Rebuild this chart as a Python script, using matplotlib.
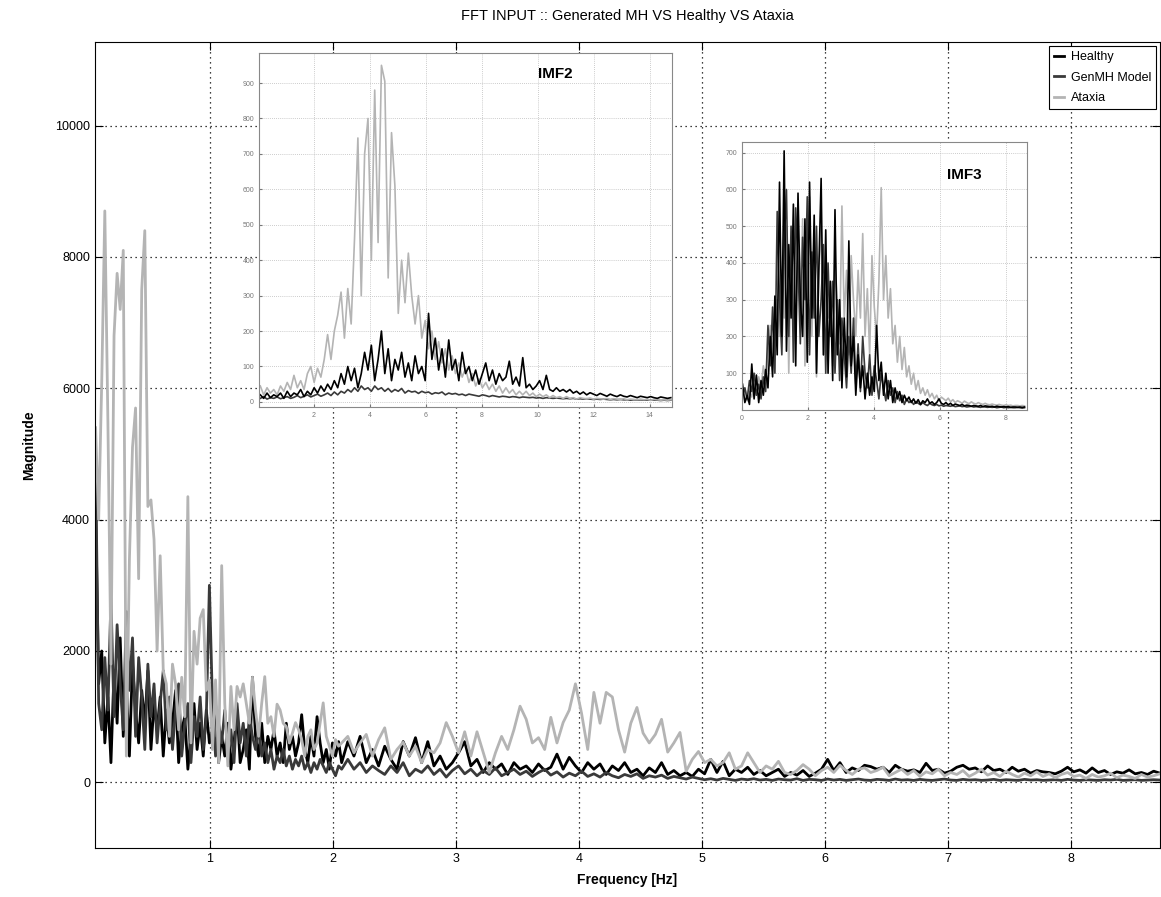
import numpy as np
import matplotlib
matplotlib.use("Agg")
import matplotlib.pyplot as plt

plt.rcParams['font.family'] = ['Liberation Sans', 'DejaVu Sans']

# ---- main spectrum, low band (0.07 - 2.07 Hz) ----
healthy_lo = [4200, 1500, 2000, 600, 1300, 300, 1700, 900, 2200, 700, 1500, 400, 1800, 1100, 600,
              1400, 900, 1700, 500, 1200, 800, 1300, 400, 1100, 600, 900, 1400, 300, 800, 1000,
              200, 700, 1200, 500, 900, 400, 1100, 600, 800, 1200, 300, 700, 400, 900, 200,
              600, 1100, 300, 500, 800, 200, 1600, 700, 400, 900, 300, 700, 500, 800, 400,
              600, 300, 900, 500, 700, 400, 600, 1030, 500, 300, 700, 400, 1000, 600, 300,
              500, 200, 600, 400, 620, 300]
genmh_lo = [4900, 1200, 800, 1900, 1100, 2800, 1000, 2400, 1500, 800, 2600, 1400, 2200, 700, 1900,
            1300, 500, 1800, 1000, 1500, 600, 1200, 1700, 800, 1300, 500, 1100, 1500, 400, 900,
            1200, 300, 1000, 700, 1300, 500, 1000, 3000, 1200, 400, 900, 600, 1100, 500, 800,
            300, 1200, 600, 900, 400, 1000, 700, 500, 850, 400, 600, 300, 500, 200, 400,
            300, 500, 250, 400, 200, 350, 250, 400, 200, 300, 150, 300, 200, 350, 250,
            150, 300, 200, 100, 250, 200]
ataxia_lo = [5400, 4000, 6100, 8700, 5500, 1800, 6800, 7750, 7200, 8100, 400, 3400, 5100, 5700, 3100,
             7500, 8400, 4200, 4300, 3700, 2000, 3450, 1700, 1500, 700, 1800, 1500, 800, 1600, 1000,
             4350, 600, 2300, 1800, 2500, 2630, 1400, 1550, 500, 1560, 300, 3300, 1200, 250, 1460,
             800, 1460, 1300, 1500, 1200, 900, 1600, 1100, 700, 1200, 1610, 900, 1000, 700, 1190,
             1100, 900, 850, 600, 750, 910, 800, 650, 400, 700, 800, 500, 600, 900, 1210,
             700, 550, 400, 650, 550, 600]

# ---- main spectrum, high band (2.12 - 8.72 Hz) ----
healthy_hi = [620, 400, 700, 300, 500, 250, 550, 350, 200, 620, 400, 680, 300, 620, 250,
              400, 200, 300, 450, 620, 250, 350, 150, 300, 200, 280, 120, 300, 200, 250,
              150, 280, 180, 230, 430, 200, 380, 250, 150, 300, 200, 280, 120, 250, 180,
              300, 150, 200, 100, 220, 150, 300, 120, 180, 100, 150, 90, 200, 130, 350,
              150, 320, 100, 200, 150, 230, 120, 180, 100, 150, 200, 90, 150, 110, 180,
              90, 140, 200, 350, 180, 300, 150, 220, 180, 260, 240, 200, 230, 150, 260,
              200, 170, 190, 150, 290, 180, 200, 140, 170, 230, 260, 200, 220, 160, 250,
              180, 200, 150, 230, 170, 200, 140, 180, 160, 150, 130, 170, 230, 160, 190,
              140, 220, 150, 180, 120, 160, 140, 190, 130, 150, 120, 170, 140]
genmh_hi = [350, 200, 300, 150, 250, 180, 120, 250, 150, 300, 100, 200, 150, 250, 120,
            200, 80, 180, 250, 130, 200, 100, 180, 120, 220, 100, 150, 200, 120, 170,
            90, 150, 200, 110, 160, 80, 140, 100, 170, 90, 130, 80, 150, 100, 70,
            120, 90, 130, 60, 100, 80, 110, 60, 90, 70, 50, 80, 60, 40, 55,
            35, 60, 45, 30, 50, 40, 55, 35, 45, 30, 50, 40, 35, 55, 30,
            45, 40, 30, 50, 35, 45, 30, 40, 50, 35, 30, 45, 40, 30, 50,
            35, 40, 30, 45, 35, 30, 40, 50, 35, 30, 45, 35, 40, 30, 35,
            45, 30, 40, 35, 30, 45, 35, 40, 30, 35, 40, 30, 45, 35, 30,
            40, 35, 30, 40, 35, 45, 30, 35, 40, 30, 35, 40, 35]
ataxia_hi = [700, 450, 600, 730, 400, 650, 830, 350, 500, 610, 400, 550, 300, 500, 450,
             600, 910, 700, 450, 770, 400, 770, 460, 150, 450, 700, 500, 800, 1160, 960,
             600, 680, 500, 990, 600, 910, 1100, 1500, 1050, 500, 1370, 900, 1370, 1300, 800,
             460, 900, 1140, 750, 600, 730, 960, 460, 600, 760, 170, 350, 470, 300, 350,
             250, 300, 450, 200, 250, 450, 300, 150, 250, 200, 320, 150, 120, 180, 270,
             200, 100, 180, 230, 150, 260, 180, 120, 200, 220, 150, 180, 230, 100, 150,
             200, 120, 180, 90, 160, 130, 200, 100, 150, 120, 180, 90, 140, 200, 110,
             150, 90, 170, 120, 80, 140, 100, 160, 90, 130, 70, 120, 150, 90, 110,
             60, 120, 80, 100, 140, 70, 110, 90, 60, 120, 80, 100, 130]

# ---- IMF2 inset (0.1 - 14.75 Hz) ----
imf2_healthy = [20, 10, 25, 12, 20, 15, 25, 10, 30, 15, 25, 20, 35, 15, 30, 20, 40, 25, 45, 30,
                50, 35, 60, 40, 80, 50, 100, 60, 95, 40, 80, 140, 90, 160, 60, 120, 200, 80, 150, 60,
                120, 90, 140, 70, 110, 60, 130, 80, 100, 60, 250, 120, 180, 90, 150, 70, 175, 90, 120, 60,
                140, 80, 100, 60, 90, 50, 80, 110, 60, 90, 50, 80, 60, 70, 115, 50, 70, 45, 125, 40,
                50, 35, 45, 60, 35, 75, 35, 30, 40, 30, 35, 28, 35, 25, 30, 22, 28, 20, 26, 22,
                18, 24, 20, 16, 22, 18, 15, 20, 16, 14, 18, 15, 12, 16, 14, 12, 15, 12, 10, 14,
                12, 10, 12]
imf2_genmh = [10, 15, 8, 12, 10, 14, 9, 12, 15, 10, 13, 18, 12, 16, 20, 14, 18, 22, 16, 20,
              25, 18, 28, 20, 30, 25, 35, 28, 40, 30, 45, 35, 40, 30, 45, 35, 40, 30, 38, 28,
              35, 30, 38, 25, 32, 28, 30, 24, 30, 26, 28, 22, 26, 24, 28, 20, 25, 22, 24, 20,
              22, 18, 22, 20, 18, 16, 20, 18, 15, 18, 16, 14, 16, 15, 13, 15, 14, 12, 14, 13,
              12, 13, 11, 12, 10, 12, 11, 10, 11, 10, 9, 10, 9, 10, 8, 9, 8, 9, 8, 7,
              8, 7, 8, 7, 6, 7, 6, 7, 6, 6, 5, 6, 5, 6, 5, 5, 6, 5, 5, 4,
              5, 4, 5]
imf2_ataxia = [45, 20, 40, 25, 35, 20, 45, 30, 55, 35, 75, 40, 60, 35, 80, 100, 55, 95, 70, 120,
               190, 120, 200, 245, 310, 180, 320, 220, 460, 745, 300, 700, 800, 400, 880, 450, 950, 905, 350, 760,
               610, 250, 400, 280, 420, 300, 220, 300, 180, 230, 150, 200, 120, 170, 110, 150, 90, 130, 80, 110,
               70, 95, 55, 80, 45, 65, 40, 55, 35, 50, 30, 45, 25, 40, 25, 35, 20, 30, 20, 30,
               18, 25, 15, 22, 15, 20, 12, 18, 12, 15, 10, 15, 10, 12, 8, 12, 10, 9, 11, 8,
               10, 9, 8, 10, 7, 9, 8, 7, 9, 6, 8, 7, 6, 8, 6, 7, 5, 7, 6, 5,
               6, 5, 6]

# ---- IMF3 inset (0.02 - 8.56 Hz) ----
imf3_healthy = [70, 20, 40, 15, 125, 30, 95, 20, 80, 40, 110, 60, 200, 90, 310, 150, 620, 200, 705, 160,
                450, 250, 560, 120, 590, 300, 200, 520, 130, 620, 250, 530, 100, 380, 630, 150, 490, 100, 350, 80,
                545, 150, 300, 60, 250, 90, 460, 120, 200, 40, 150, 60, 120, 30, 100, 40, 90, 50, 230, 80,
                130, 40, 100, 30, 80, 20, 60, 30, 50, 20, 40, 25, 35, 20, 30, 18, 28, 15, 25, 20,
                30, 18, 22, 15, 20, 30, 18, 15, 20, 14, 18, 12, 16, 14, 12, 15, 11, 13, 12, 10,
                12, 11, 10, 12, 9, 11, 10, 9, 10, 8, 10, 9, 8, 9, 8, 9, 7, 8, 8, 7,
                8, 7, 8]
imf3_genmh = [40, 60, 30, 80, 50, 100, 40, 70, 30, 90, 50, 230, 120, 280, 100, 540, 300, 150, 450, 600,
              200, 500, 130, 550, 400, 180, 470, 300, 580, 150, 430, 250, 500, 200, 300, 450, 100, 400, 200, 350,
              100, 300, 80, 250, 150, 60, 200, 100, 250, 70, 180, 50, 200, 100, 60, 150, 40, 120, 80, 30,
              100, 60, 25, 80, 40, 60, 20, 50, 25, 40, 15, 30, 20, 25, 15, 22, 18, 14, 20, 15,
              12, 18, 14, 12, 15, 11, 13, 10, 12, 11, 10, 12, 9, 10, 11, 9, 10, 8, 9, 10,
              8, 9, 8, 7, 9, 8, 7, 8, 7, 8, 6, 7, 8, 6, 7, 6, 7, 6, 6, 7,
              6, 5, 6]
imf3_ataxia = [30, 60, 25, 50, 35, 70, 40, 90, 60, 120, 80, 160, 230, 150, 240, 300, 200, 380, 250, 500,
               100, 420, 300, 180, 460, 250, 520, 120, 400, 580, 200, 450, 90, 380, 500, 150, 420, 250, 350, 120,
               400, 300, 180, 555, 250, 380, 150, 420, 300, 200, 380, 250, 480, 200, 330, 150, 420, 280, 200, 350,
               605, 300, 420, 250, 330, 180, 230, 130, 200, 110, 170, 90, 120, 70, 100, 55, 80, 45, 60, 40,
               55, 35, 45, 30, 40, 25, 35, 30, 25, 32, 22, 28, 20, 25, 22, 18, 24, 20, 17, 22,
               18, 16, 20, 17, 15, 18, 15, 14, 16, 14, 13, 15, 13, 12, 14, 12, 13, 11, 12, 12,
               11, 12, 11]

c_healthy = '#000000'
c_genmh = '#3a3a3a'
c_ataxia = '#b4b4b4'

fig = plt.figure(figsize=(11.61, 8.97), dpi=100)
ax = fig.add_axes([0.0818, 0.0546, 0.9172, 0.8984])

f_lo = np.linspace(0.07, 2.07, len(healthy_lo))
f_hi = np.linspace(2.12, 8.72, len(healthy_hi))
freq = np.concatenate([f_lo, f_hi])
healthy = np.concatenate([healthy_lo, healthy_hi])
genmh = np.concatenate([genmh_lo, genmh_hi])
ataxia = np.concatenate([ataxia_lo, ataxia_hi])

ax.plot(freq, healthy, color=c_healthy, lw=2, label='Healthy')
ax.plot(freq, genmh, color=c_genmh, lw=2, label='GenMH Model')
ax.plot(freq, ataxia, color=c_ataxia, lw=2, label='Ataxia')

ax.set_xlim(0.065, 8.72)
ax.set_ylim(-1000, 11270)
ax.set_xticks(range(1, 9))
ax.set_yticks(range(0, 10001, 2000))
ax.tick_params(direction='in', top=True, right=True, labelsize=9, length=6)
ax.grid(True, color='black', linestyle=(0, (1, 3)), linewidth=0.9)
ax.set_title('FFT INPUT :: Generated MH VS Healthy VS Ataxia', fontsize=10.5, pad=16)
ax.set_xlabel('Frequency [Hz]', fontsize=10, fontweight='bold', labelpad=6)
ax.set_ylabel('Magnitude', fontsize=10, fontweight='bold', labelpad=14)
leg = ax.legend(loc='upper right', fontsize=9, handlelength=0.8, handletextpad=0.5,
                fancybox=False, framealpha=1, edgecolor='black', borderaxespad=0.3,
                labelspacing=0.7)
leg.get_frame().set_linewidth(0.8)


def inset(rect, x, series, xlim, ylim, xticks, yticks, label, lx, ly):
    a = fig.add_axes(rect)
    a.set_facecolor('white')
    for vals, col in series:
        a.plot(x(len(vals)), vals, color=col, lw=1.2)
    a.set_xlim(*xlim)
    a.set_ylim(*ylim)
    a.set_xticks(xticks)
    a.set_yticks(yticks)
    a.tick_params(direction='in', labelsize=5, colors='#777777', length=2)
    a.grid(True, color='#bbbbbb', linestyle=(0, (1, 1.5)), linewidth=0.6)
    for s in a.spines.values():
        s.set_color('#888888')
    a.text(lx, ly, label, transform=a.transAxes, fontsize=11, fontweight='bold', va='center')
    return a


inset([0.223, 0.546, 0.356, 0.395],
      lambda n: np.linspace(0.1, 14.75, n),
      [(imf2_genmh, c_genmh), (imf2_ataxia, c_ataxia), (imf2_healthy, c_healthy)],
      (0.05, 14.8), (-15, 985), range(2, 15, 2), range(0, 901, 100), 'IMF2', 0.675, 0.94)
inset([0.639, 0.543, 0.246, 0.299],
      lambda n: np.linspace(0.02, 8.56, n),
      [(imf3_ataxia, c_ataxia), (imf3_genmh, c_genmh), (imf3_healthy, c_healthy)],
      (0, 8.65), (0, 730), range(0, 9, 2), range(100, 701, 100), 'IMF3', 0.717, 0.877)

fig.savefig('out.png', dpi=100)
